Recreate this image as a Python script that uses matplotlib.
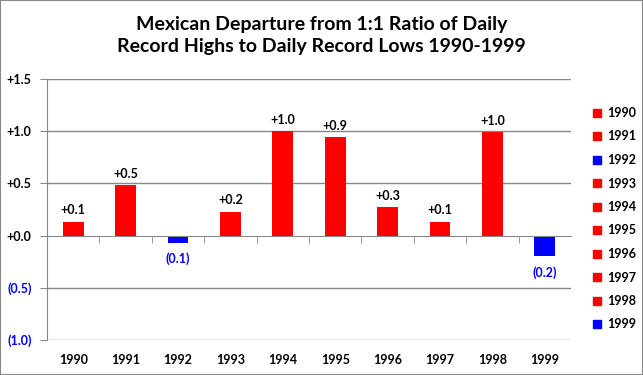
import matplotlib
matplotlib.use('Agg')
import matplotlib.pyplot as plt
from matplotlib.lines import Line2D
import numpy as np

plt.rcParams['font.family'] = ['Lato', 'DejaVu Sans']

years = ['1990', '1991', '1992', '1993', '1994', '1995', '1996', '1997', '1998', '1999']
values = [0.135, 0.48, -0.07, 0.23, 1.0, 0.94, 0.27, 0.135, 0.99, -0.2]
y_ticks = [-1.0, -0.5, 0.0, 0.5, 1.0, 1.5]


def fmt(v):
    # Excel style: +0.1 for positives, (0.1) for negatives
    if v < 0:
        return f'({abs(v):.1f})'
    return f'+{v:.1f}'


colors = ['#FF0000' if v >= 0 else '#0000FF' for v in values]
grid_c = '#878787'

fig = plt.figure(figsize=(6.43, 3.75), dpi=100)
ax = fig.add_axes([47 / 643, 1 - 340 / 375, (571 - 47) / 643, (340 - 79) / 375])

x = np.arange(len(years))
ax.bar(x, values, width=0.4, color=colors, zorder=3)

for xi, v in zip(x, values):
    if v >= 0:
        ax.annotate(fmt(v), (xi, v), xytext=(0, 4), textcoords='offset points',
                    ha='center', va='bottom', fontsize=9, fontweight='bold', color='black')
    else:
        ax.annotate(fmt(v), (xi, v), xytext=(0, -7), textcoords='offset points',
                    ha='center', va='top', fontsize=9, fontweight='bold', color='#0000FF')

ax.set_xlim(-0.5, len(years) - 0.5)
ax.set_ylim(-1.0, 1.5)

# gridlines
for t in y_ticks:
    if t != 0:
        ax.axhline(t, color=grid_c, lw=1, zorder=1)

ax.set_yticks(y_ticks)
ax.set_yticklabels([fmt(t) for t in y_ticks])
for lab, t in zip(ax.get_yticklabels(), y_ticks):
    lab.set_color('#0000FF' if t < 0 else 'black')
    lab.set_fontweight('bold')
    lab.set_fontsize(9)
ax.tick_params(axis='y', direction='out', length=5, color=grid_c, pad=6)

# category axis through zero
ax.spines['bottom'].set_position(('data', 0))
ax.spines['bottom'].set_color(grid_c)
ax.spines['bottom'].set_zorder(4)
ax.set_xticks(x)
ax.set_xticklabels([])
ax.tick_params(axis='x', which='major', length=0)
ax.set_xticks(np.arange(0.5, len(years) - 0.5, 1), minor=True)
ax.tick_params(axis='x', which='minor', direction='out', length=5, color=grid_c)
for xi, yr in zip(x, years):
    ax.annotate(yr, (xi, -1.0), xytext=(0, -10), textcoords='offset points',
                ha='center', va='top', fontsize=9, fontweight='bold')

ax.spines['left'].set_color(grid_c)
ax.spines['top'].set_visible(False)
ax.spines['right'].set_visible(False)

fig.suptitle('Mexican Departure from 1:1 Ratio of Daily\nRecord Highs to Daily Record Lows 1990-1999',
             y=0.958, fontsize=14, fontweight='bold', linespacing=1.4)

handles = [Line2D([], [], marker='s', ls='none', color=c, markersize=6) for c in colors]
leg = fig.legend(handles, years, loc='upper left', bbox_to_anchor=(587 / 643, 1 - 102 / 375),
                 frameon=False, fontsize=9, handlelength=0.8, handletextpad=0.4,
                 labelspacing=0.92, borderaxespad=0)
for t in leg.get_texts():
    t.set_fontweight('bold')

fig.patches.append(plt.Rectangle((0, 0), 1, 1, transform=fig.transFigure, fill=False,
                                 edgecolor='#888888', lw=1.5))

plt.savefig('out.png', dpi=100)
